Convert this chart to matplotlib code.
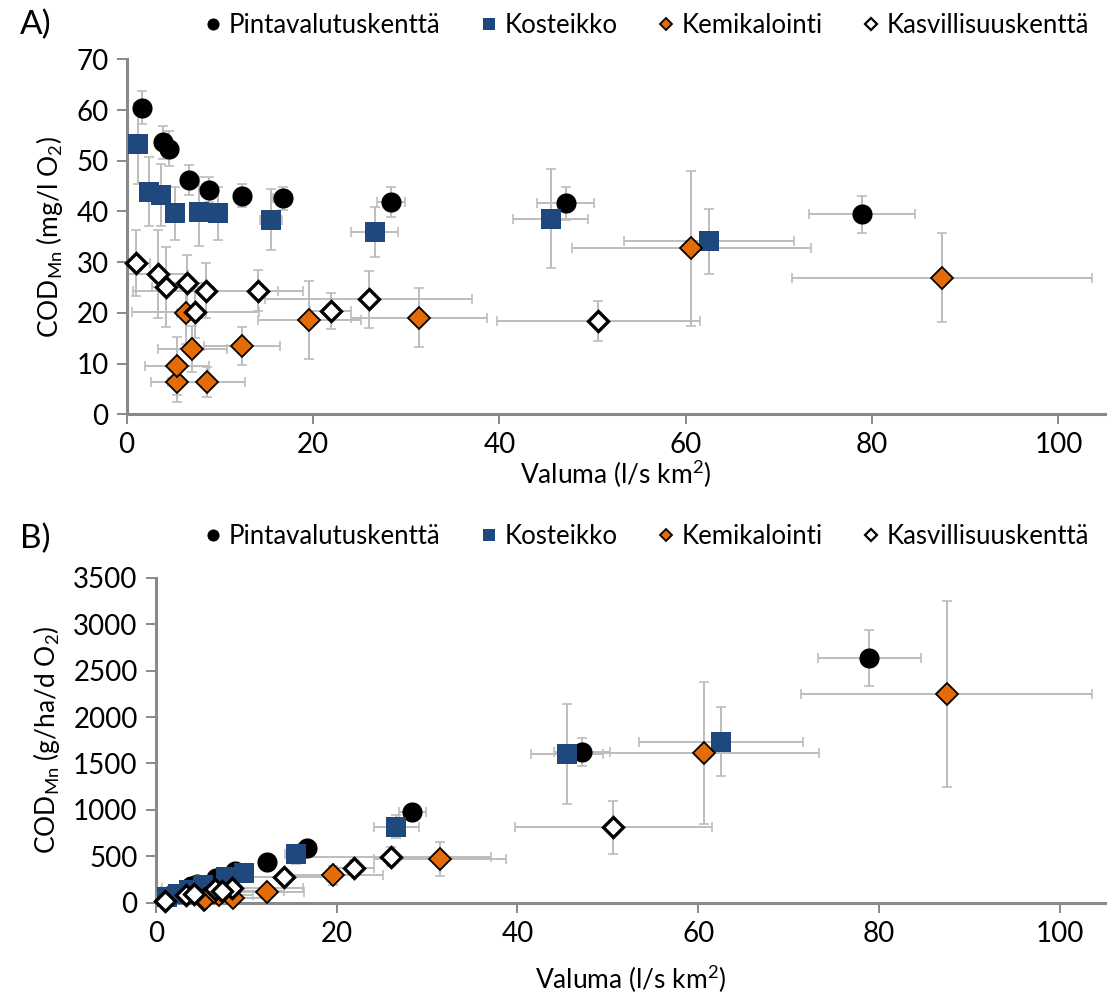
import matplotlib
matplotlib.use('Agg')
from matplotlib import pyplot as plt
from matplotlib.lines import Line2D

plt.rcParams['font.family'] = ['Lato', 'DejaVu Sans']
plt.rcParams['mathtext.default'] = 'regular'

series_names = ['Pintavalutuskenttä', 'Kosteikko', 'Kemikalointi', 'Kasvillisuuskenttä']

# Pintavalutuskenttä
pinta_x = [1.68, 3.88, 4.56, 6.64, 8.8, 12.35, 16.74, 28.4, 47.1, 78.9]
pinta_xerr = [0.3, 0.4, 0.4, 0.5, 0.6, 0.6, 1.0, 1.5, 3.1, 5.7]
pinta_conc = [60.5, 53.6, 52.4, 46.2, 44.3, 43.1, 42.6, 41.9, 41.6, 39.4]
pinta_conc_err = [3.2, 3.3, 3.4, 2.9, 2.4, 2.3, 2.3, 2.9, 3.3, 3.7]
pinta_load = [88, 180, 206, 265, 337, 442, 593, 974, 1621, 2637]
pinta_load_err = [10, 20, 25, 25, 30, 40, 50, 60, 150, 300]

# Kosteikko
kost_x = [1.25, 2.44, 3.73, 5.24, 7.72, 9.77, 15.5, 26.6, 45.5, 62.5]
kost_xerr = [0.3, 0.4, 0.5, 0.5, 0.6, 0.7, 1.2, 2.5, 4.0, 9.1]
kost_conc = [53.4, 43.9, 43.2, 39.6, 39.9, 39.6, 38.4, 36.0, 38.6, 34.1]
kost_conc_err = [7.9, 6.8, 6.1, 5.3, 6.8, 5.2, 6.1, 4.9, 9.7, 6.4]
kost_load = [58, 93, 139, 191, 280, 323, 521, 819, 1599, 1735]
kost_load_err = [10, 15, 20, 25, 45, 40, 100, 125, 537, 374]

# Kemikalointi
kemi_x = [5.35, 8.58, 5.42, 7.04, 12.35, 6.39, 19.6, 31.4, 60.6, 87.5]
kemi_xerr = [2.7, 4.1, 3.4, 3.7, 4.1, 1.0, 5.5, 7.3, 12.8, 16.1]
kemi_conc = [6.3, 6.3, 9.5, 12.9, 13.45, 19.9, 18.6, 19.0, 32.7, 26.9]
kemi_conc_err = [3.9, 3.0, 5.7, 4.5, 3.8, 6.0, 7.7, 5.8, 15.3, 8.8]
kemi_load = [29, 47, 44, 78, 119, 110, 295, 471, 1610, 2252]
kemi_load_err = [15, 20, 25, 30, 60, 50, 100, 180, 763, 1000]

# Kasvillisuuskenttä
kasv_x = [1.0, 3.34, 4.2, 6.53, 8.47, 14.15, 7.36, 21.9, 26.0, 50.6]
kasv_xerr = [1.5, 3.2, 1.5, 2.0, 7.8, 4.8, 6.8, 2.2, 11.1, 10.9]
kasv_conc = [29.8, 27.7, 25.1, 25.9, 24.4, 24.4, 20.1, 20.4, 22.7, 18.4]
kasv_conc_err = [6.5, 8.7, 7.9, 5.5, 5.5, 4.1, 5.0, 3.6, 5.6, 4.0]
kasv_load = [22, 80, 91, 146, 160, 280, 128, 377, 496, 812]
kasv_load_err = [10, 25, 30, 30, 40, 60, 40, 80, 100, 289]

styles = [
    dict(marker='o', color='black', mfc='black', mec='black', ms=14.5, mew=0),
    dict(marker='s', color='#1F497D', mfc='#1F497D', mec='#1F497D', ms=15, mew=0),
    dict(marker='D', color='#E36C09', mfc='#E36C09', mec='black', ms=11, mew=1.3),
    dict(marker='D', color='black', mfc='white', mec='black', ms=10.5, mew=2.4),
]

AXIS_GREY = '#898989'
ERR_GREY = '#BDBDBD'


def draw_panel(ax, xs, xerrs, ys, yerrs, ymax, ystep, xlabel_pad):
    for x, xe, y, ye in zip(xs, xerrs, ys, yerrs):
        ax.errorbar(x, y, xerr=xe, yerr=ye, fmt='none', ecolor=ERR_GREY,
                    elinewidth=1.4, capsize=3.5, capthick=1.2, zorder=1)
    for x, y, st in zip(xs, ys, styles):
        ax.plot(x, y, linestyle='none', marker=st['marker'], markersize=st['ms'],
                markerfacecolor=st['mfc'], markeredgecolor=st['mec'],
                markeredgewidth=st['mew'], zorder=3, clip_on=False)
    ax.set_xlim(0, 105)
    ax.set_ylim(0, ymax)
    ax.set_xticks(range(0, 101, 20))
    ax.set_yticks(range(0, ymax + 1, ystep))
    for side in ['top', 'right']:
        ax.spines[side].set_visible(False)
    for side in ['left', 'bottom']:
        ax.spines[side].set_color(AXIS_GREY)
        ax.spines[side].set_linewidth(2.2)
    ax.tick_params(axis='both', direction='out', length=7, width=1.4,
                   color=AXIS_GREY, labelsize=20, labelcolor='black', pad=6)
    ax.set_xlabel('Valuma (l/s km$^2$)', fontsize=19, labelpad=xlabel_pad)


def add_legend(fig, y):
    handles = []
    for st in styles:
        ms = st['ms'] * 0.6
        handles.append(Line2D([], [], linestyle='none', marker=st['marker'], markersize=ms,
                              markerfacecolor=st['mfc'], markeredgecolor=st['mec'],
                              markeredgewidth=min(st['mew'], 1.6)))
    fig.legend(handles, series_names, loc='center', bbox_to_anchor=(0.583, y), ncol=4,
               frameon=False, fontsize=18.5, handlelength=0.6, handletextpad=0.3,
               columnspacing=1.6, borderaxespad=0, borderpad=0)


fig = plt.figure(figsize=(11.1, 10.01), dpi=100)

axA = fig.add_axes([0.1141, 0.5862, 0.8814, 0.3545])
draw_panel(axA,
           [pinta_x, kost_x, kemi_x, kasv_x],
           [pinta_xerr, kost_xerr, kemi_xerr, kasv_xerr],
           [pinta_conc, kost_conc, kemi_conc, kasv_conc],
           [pinta_conc_err, kost_conc_err, kemi_conc_err, kasv_conc_err],
           70, 10, 0)
axA.set_ylabel('COD$_{Mn}$ (mg/l O$_2$)', fontsize=19, labelpad=8)

axB = fig.add_axes([0.1403, 0.0982, 0.8552, 0.3245])
draw_panel(axB,
           [pinta_x, kost_x, kemi_x, kasv_x],
           [pinta_xerr, kost_xerr, kemi_xerr, kasv_xerr],
           [pinta_load, kost_load, kemi_load, kasv_load],
           [pinta_load_err, kost_load_err, kemi_load_err, kasv_load_err],
           3500, 500, 12)
axB.set_ylabel('COD$_{Mn}$ (g/ha/d O$_2$)', fontsize=19, labelpad=8)

fig.text(0.018, 0.975, 'A)', fontsize=24, va='center', ha='left')
fig.text(0.018, 0.462, 'B)', fontsize=24, va='center', ha='left')
add_legend(fig, 0.975)
add_legend(fig, 0.464)

fig.savefig('out.png', dpi=100)
